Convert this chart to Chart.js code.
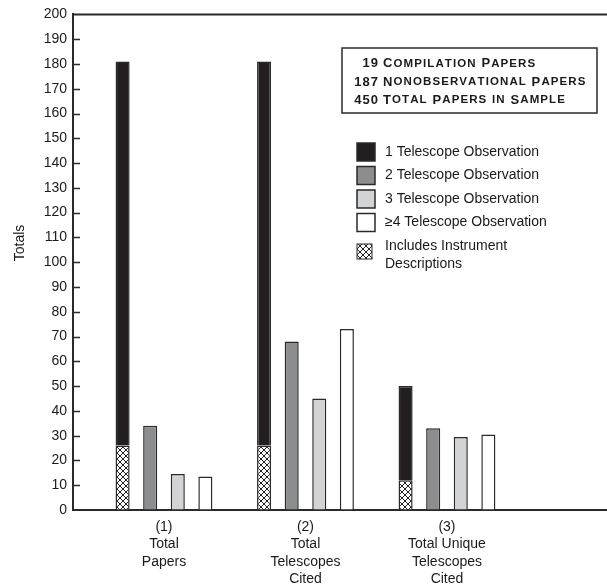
<!DOCTYPE html>
<html>
<head>
<meta charset="utf-8">
<script src="https://cdn.jsdelivr.net/npm/chart.js@4/dist/chart.umd.min.js"></script>
<style>
  html, body { margin: 0; padding: 0; background: #fff; }
  #wrap { width: 607px; height: 588px; }
</style>
</head>
<body>
<div id="wrap"><canvas id="chart" width="607" height="588"></canvas></div>
<script>
// categories (x axis)
const categories = [
    ['(1)', 'Total', 'Papers'],
    ['(2)', 'Total', 'Telescopes', 'Cited'],
    ['(3)', 'Total Unique', 'Telescopes', 'Cited']
];

// series values
const oneTelescope = [181, 181, 50];      // total height of black bar
const instrumentDesc = [26, 26, 12];      // hatched part at bottom of black bar
const twoTelescope = [34, 68, 33];
const threeTelescope = [14.5, 45, 29.5];
const fourTelescope = [13.5, 73, 30.5];

// y ticks
const yMin = 0;
const yMax = 200;
const yStep = 10;

// text box
const summaryNumbers = ['19', '187', '450'];
const summaryText = ['Compilation Papers', 'Nonobservational Papers', 'Total Papers in Sample'];

const legendLabels = ['1 Telescope Observation', '2 Telescope Observation', '3 Telescope Observation', '\u22654 Telescope Observation'];
const hatchLabel = ['Includes Instrument', 'Descriptions'];

const ink = '#2a2a2a';
const FONT = '"Liberation Sans", Arial, sans-serif';

// cross hatch fill
function makeHatch() {
    const c = document.createElement('canvas');
    c.width = 6; c.height = 6;
    const g = c.getContext('2d');
    g.fillStyle = '#fff';
    g.fillRect(0, 0, 6, 6);
    g.strokeStyle = '#222';
    g.lineWidth = 1;
    g.beginPath();
    g.moveTo(0, 0); g.lineTo(6, 6);
    g.moveTo(6, 0); g.lineTo(0, 6);
    g.stroke();
    return g.createPattern(c, 'repeat');
}
const hatch = makeHatch();

const toPoints = arr => arr.map((v, i) => ({ x: i + 1, y: v }));

const fills = ['#231f20', '#8c8d8f', '#d2d3d5', '#ffffff'];

// letter spaced text, one glyph at a time
function spaced(ctx, text, x, y, spacing) {
    for (const ch of text) {
        ctx.fillText(ch, x, y);
        x += ctx.measureText(ch).width + spacing;
    }
    return x;
}

function spacedWidth(ctx, text, spacing) {
    let w = 0;
    for (const ch of text) w += ctx.measureText(ch).width + spacing;
    return w - spacing;
}

// small caps by hand: capital letters big, the rest uppercased smaller
function smallCaps(ctx, text, x, y) {
    for (const ch of text) {
        const big = ch !== ch.toLowerCase() || ch === ' ';
        ctx.font = (big ? 'bold 13px ' : 'bold 11.5px ') + FONT;
        ctx.fillText(ch.toUpperCase(), x, y);
        x += ctx.measureText(ch.toUpperCase()).width + 1.1;
    }
}

// extra drawing: top frame line, inner tick marks, summary box and legend
const decorations = {
    id: 'decorations',
    afterDraw(chart) {
        const ctx = chart.ctx;
        const area = chart.chartArea;
        const y = chart.scales.y;
        ctx.save();
        ctx.strokeStyle = ink;
        ctx.lineWidth = 2;
        ctx.beginPath();
        ctx.moveTo(area.left - 1, area.top);
        ctx.lineTo(area.right, area.top);
        ctx.stroke();

        ctx.lineWidth = 1.5;
        ctx.beginPath();
        for (let v = yMin + yStep; v < yMax; v += yStep) {
            const py = Math.round(y.getPixelForValue(v)) + 0.5;
            ctx.moveTo(area.left, py);
            ctx.lineTo(area.left + 7, py);
        }
        ctx.stroke();

        // axis title
        ctx.save();
        ctx.translate(20, 243);
        ctx.rotate(-Math.PI / 2);
        ctx.font = '14px ' + FONT;
        ctx.fillStyle = '#1a1a1a';
        ctx.textAlign = 'center';
        ctx.textBaseline = 'middle';
        ctx.fillText('Totals', 0, 0);
        ctx.restore();

        // summary box
        ctx.lineWidth = 1.5;
        ctx.strokeStyle = ink;
        ctx.strokeRect(342, 48, 255, 65);
        ctx.fillStyle = '#1a1a1a';
        ctx.textBaseline = 'middle';
        ctx.textAlign = 'left';
        const rows = [63.5, 82, 100];
        for (let i = 0; i < summaryNumbers.length; i++) {
            ctx.font = 'bold 13px ' + FONT;
            const w = spacedWidth(ctx, summaryNumbers[i], 1);
            spaced(ctx, summaryNumbers[i], 378 - w, rows[i], 1);
            smallCaps(ctx, summaryText[i], 383, rows[i]);
        }

        // legend
        ctx.font = '14px ' + FONT;
        const centers = [152, 175.5, 199, 222.5];
        for (let i = 0; i < legendLabels.length; i++) {
            ctx.fillStyle = fills[i];
            ctx.fillRect(357, centers[i] - 9, 18, 18);
            ctx.strokeStyle = ink;
            ctx.lineWidth = 1.5;
            ctx.strokeRect(357, centers[i] - 9, 18, 18);
            ctx.fillStyle = '#1a1a1a';
            ctx.fillText(legendLabels[i], 385, centers[i]);
        }
        ctx.fillStyle = hatch;
        ctx.fillRect(357, 244, 15, 15);
        ctx.lineWidth = 1;
        ctx.strokeRect(357, 244, 15, 15);
        ctx.fillStyle = '#1a1a1a';
        ctx.fillText(hatchLabel[0], 385, 246.5);
        ctx.fillText(hatchLabel[1], 385, 264);
        ctx.restore();
    }
};

const barStyle = {
    borderColor: ink,
    borderWidth: 1.5,
    categoryPercentage: 0.78,
    barPercentage: 0.51
};

new Chart(document.getElementById('chart'), {
    type: 'bar',
    data: {
        datasets: [
            { label: hatchLabel.join(' '), data: toPoints(instrumentDesc), backgroundColor: hatch, stack: 's1', ...barStyle },
            { label: legendLabels[0], data: toPoints(oneTelescope.map((v, i) => v - instrumentDesc[i])), backgroundColor: fills[0], stack: 's1', ...barStyle },
            { label: legendLabels[1], data: toPoints(twoTelescope), backgroundColor: fills[1], stack: 's2', ...barStyle },
            { label: legendLabels[2], data: toPoints(threeTelescope), backgroundColor: fills[2], stack: 's3', ...barStyle },
            { label: legendLabels[3], data: toPoints(fourTelescope), backgroundColor: fills[3], stack: 's4', ...barStyle }
        ]
    },
    options: {
        responsive: false,
        animation: false,
        layout: { padding: { top: 11, right: 0, left: 0, bottom: 0 } },
        plugins: {
            legend: { display: false },
            tooltip: { enabled: false }
        },
        scales: {
            x: {
                type: 'linear',
                min: 0.357,
                max: 4.131,
                offset: false,
                bounds: 'data',
                afterBuildTicks: scale => { scale.ticks = categories.map((c, i) => ({ value: i + 1 })); },
                afterFit: scale => { scale.height = 78; },
                grid: { drawOnChartArea: false, drawTicks: false, offset: false },
                border: { display: true, color: ink, width: 2 },
                ticks: {
                    padding: 8,
                    color: '#1a1a1a',
                    font: { size: 14, family: FONT, lineHeight: 1.25 },
                    maxRotation: 0,
                    autoSkip: false,
                    callback: v => categories[v - 1] || ''
                }
            },
            y: {
                stacked: true,
                min: yMin,
                max: yMax,
                afterFit: scale => { scale.width = 73; },
                grid: { drawOnChartArea: false, drawTicks: false },
                border: { display: true, color: ink, width: 2 },
                ticks: {
                    stepSize: yStep,
                    padding: 6,
                    color: '#1a1a1a',
                    font: { size: 14, family: FONT }
                }
            }
        }
    },
    plugins: [decorations]
});
</script>
</body>
</html>
